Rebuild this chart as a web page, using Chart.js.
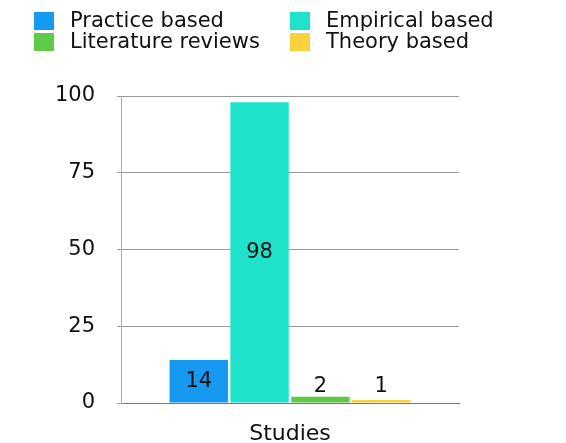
<!DOCTYPE html>
<html>
<head>
<meta charset="utf-8">
<script src="https://cdn.jsdelivr.net/npm/chart.js@4"></script>
<style>
  html, body { margin: 0; padding: 0; background: #fff; }
  #wrap { position: relative; width: 566px; height: 443px; }
  #chart { position: absolute; left: 0; top: 0; }
  #legend { position: absolute; left: 34px; top: 10px; font-family: "DejaVu Sans", sans-serif; font-size: 21px; color: #111; }
  .item { position: absolute; white-space: nowrap; display: flex; align-items: center; line-height: 21px; }
  .box { width: 20px; height: 18px; margin-right: 16px; }
</style>
</head>
<body>
<div id="wrap">
  <canvas id="chart" width="566" height="443"></canvas>
  <div id="legend"></div>
</div>
<script>
var categories = ["Studies"];
var seriesNames = ["Practice based", "Empirical based", "Literature reviews", "Theory based"];
var seriesValues = [[14], [98], [2], [1]];
var seriesColors = ["#1699f0", "#1fe2cb", "#5fca48", "#f8d23c"];
var yTicks = [0, 25, 50, 75, 100];

var FONT = "'DejaVu Sans', sans-serif";

var datasets = seriesNames.map(function (name, i) {
    return {
        label: name,
        data: seriesValues[i],
        backgroundColor: seriesColors[i],
        categoryPercentage: 0.72,
        barPercentage: 0.96
    };
});

// legend in two aligned columns
var legend = document.getElementById("legend");
seriesNames.forEach(function (name, i) {
    var el = document.createElement("div");
    el.className = "item";
    el.style.left = (i % 2 === 0 ? 0 : 256) + "px";
    el.style.top = (Math.floor(i / 2) * 21) + "px";
    el.innerHTML = '<span class="box" style="background:' + seriesColors[i] + '"></span>' + name;
    legend.appendChild(el);
});

var valueLabels = {
    id: "valueLabels",
    afterDatasetsDraw: function (chart) {
        var ctx = chart.ctx;
        ctx.save();
        ctx.font = "21px " + FONT;
        ctx.fillStyle = "#111";
        ctx.textAlign = "center";
        ctx.textBaseline = "middle";
        chart.data.datasets.forEach(function (ds, i) {
            chart.getDatasetMeta(i).data.forEach(function (bar, j) {
                var v = ds.data[j];
                var y = v > 10 ? (bar.y + bar.base) / 2 : bar.base - 16;
                ctx.fillText(String(v), bar.x, y);
            });
        });
        ctx.restore();
    }
};

var canvas = document.getElementById("chart");
var chart = new Chart(canvas, {
    type: "bar",
    data: { labels: categories, datasets: datasets },
    options: {
        responsive: false,
        animation: false,
        layout: { padding: { top: 96, right: 107, left: 0, bottom: 0 } },
        plugins: { legend: { display: false }, tooltip: { enabled: false } },
        scales: {
            x: {
                grid: { display: false },
                border: { color: "#777", width: 1 },
                ticks: { color: "#111", font: { size: 22, family: FONT }, padding: 10 },
                afterFit: function (s) { s.height = 40; }
            },
            y: {
                min: 0,
                max: 100,
                afterBuildTicks: function (s) { s.ticks = yTicks.map(function (v) { return { value: v }; }); },
                grid: { color: "#999", tickLength: 4, lineWidth: 1 },
                border: { color: "#aaa", width: 1 },
                ticks: { color: "#111", font: { size: 21, family: FONT }, padding: 22 },
                afterFit: function (s) { s.width = 121; }
            }
        }
    },
    plugins: [valueLabels]
});
</script>
</body>
</html>
